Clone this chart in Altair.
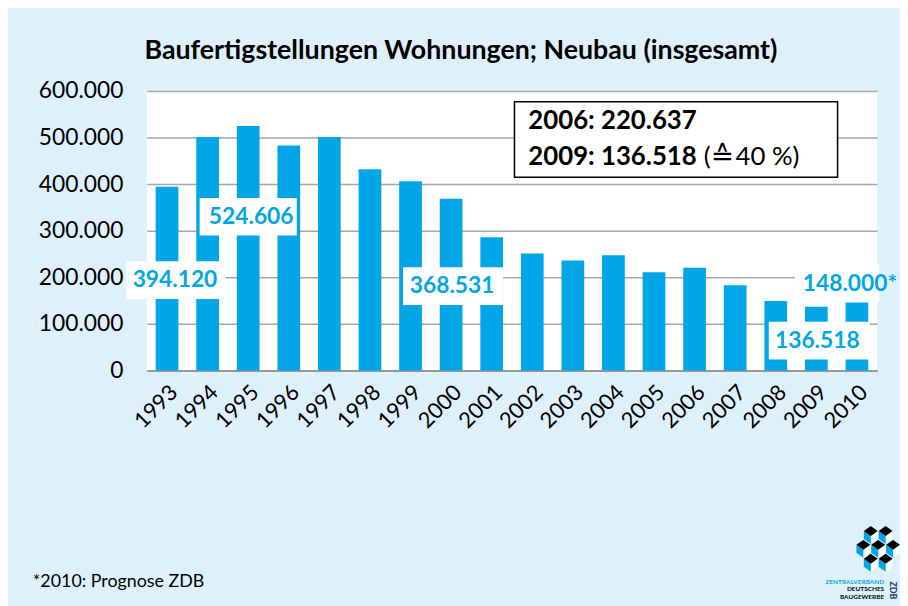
import altair as alt
import pandas as pd

# ---------------- data ----------------
years = [str(y) for y in range(1993, 2011)]
values = [394120, 501000, 524606, 483000, 501000, 432000, 406000, 368531,
          286000, 251000, 236000, 247500, 211000, 220637, 183000, 149000,
          136518, 148000]

label_years = ["1993", "1995", "2000", "2009", "2010"]
label_at = [194000, 330000, 181000, 64000, 186000]   # where the value label sits (data units)
label_suffix = ["", "", "", "", "*"]

y_ticks = [0, 100000, 200000, 300000, 400000, 500000, 600000]

title_text = "Baufertigstellungen Wohnungen; Neubau (insgesamt)"
box_line1 = "2006: 220.637"
box_line2_bold = "2009: 136.518"
box_line2_open = "("
box_line2_sign = "\u2259"
box_line2_rest = "40 %)"
footnote = "*2010: Prognose ZDB"
logo_lines = ["ZENTRALVERBAND", "DEUTSCHES", "BAUGEWERBE"]
logo_side = "ZDB"

# ---------------- style ----------------
BLUE = "#00A6E8"
BG = "#DEF0FA"
GRID = "#A6A6A6"
FONT = "Lato"
W, H = 737, 282


def de(v):
    return f"{v:,}".replace(",", ".")


df = pd.DataFrame({"year": years, "value": values})
lab = pd.DataFrame({
    "year": label_years,
    "at": label_at,
    "text": [de(values[years.index(y)]) + s for y, s in zip(label_years, label_suffix)],
})
one = pd.DataFrame({"k": [0]})

xenc = alt.X("year:O", sort=years,
             scale=alt.Scale(paddingInner=0.44, paddingOuter=0.22),
             axis=alt.Axis(title=None, labelAngle=-45, labelFontSize=22,
                           labelColor="#000000", labelFont=FONT, ticks=False,
                           domainColor="#8C8C8C", domainWidth=1.5, labelPadding=11))
yenc = alt.Y("value:Q", scale=alt.Scale(domain=[0, 600000], nice=False),
             axis=alt.Axis(title=None, values=y_ticks,
                           labelExpr="replace(format(datum.value, ','), regexp(',', 'g'), '.')",
                           labelFontSize=23, labelColor="#000000", labelFont=FONT,
                           domain=False, ticks=False, labelPadding=24,
                           gridColor=GRID, gridWidth=1.5))

bars = alt.Chart(df).mark_bar(color=BLUE).encode(x=xenc, y=yenc)


def rect_path(w, h):
    a, b = w / 100.0, h / 100.0
    return f"M{-a},{-b}H{a}V{b}H{-a}Z"


# per-label styling: (box x offset, box width, text x offset)
label_style = {
    "1993": (9, 100, 8),
    "1995": (0, 98, 3),
    "2000": (2, 101, 1),
    "2009": (3, 102, 1),
    "2010": (-20, 85, -7),
}

layers = [bars]
for y in label_years:
    bx, bw, tx = label_style[y]
    sub = lab[lab.year == y]
    layers.append(
        alt.Chart(sub).mark_point(shape=rect_path(bw, 38), size=10000, filled=True,
                                  fill="white", opacity=1, strokeWidth=0, xOffset=bx)
        .encode(x=alt.X("year:O", sort=years), y=alt.Y("at:Q"))
    )
    layers.append(
        alt.Chart(sub).mark_text(font=FONT, fontSize=23, fontWeight="bold", color=BLUE,
                                 align="center", baseline="middle", dx=tx)
        .encode(x=alt.X("year:O", sort=years), y=alt.Y("at:Q"), text="text:N")
    )

# annotation box
layers.append(
    alt.Chart(one).mark_rect(fill="white", stroke="#000000", strokeWidth=1.5)
    .encode(x=alt.value(371), x2=alt.value(697), y=alt.value(11), y2=alt.value(87))
)
for txt, xpos, ypos, weight, fnt, fs in [
    (box_line1, 385, 38, "bold", FONT, 26),
    (box_line2_bold, 385, 75, "bold", FONT, 26),
    (box_line2_open, 562, 75, "normal", FONT, 26),
    (box_line2_sign, 569, 75, "normal", "DejaVu Sans", 28),
    (box_line2_rest, 594, 75, "normal", FONT, 26),
]:
    layers.append(
        alt.Chart(one).mark_text(text=txt, font=fnt, fontSize=fs, fontWeight=weight,
                                 color="#000000", align="left", baseline="alphabetic")
        .encode(x=alt.value(xpos), y=alt.value(ypos))
    )

# title
layers.append(
    alt.Chart(one).mark_text(text=title_text, font=FONT, fontSize=27, fontWeight="bold",
                             color="#000000", align="center", baseline="alphabetic")
    .encode(x=alt.value(317), y=alt.value(-32))
)
# footnote
layers.append(
    alt.Chart(one).mark_text(text=footnote, font=FONT, fontSize=18,
                             color="#000000", align="left", baseline="alphabetic")
    .encode(x=alt.value(-115), y=alt.value(501))
)

# logo (decoration)
cubes = [(-7.5, -14), (7.5, -14), (-15, 0), (0, 0), (15, 0), (-7.5, 14), (7.5, 14)]
top_p = "".join(f"M{cx},{cy-5}L{cx+7},{cy}L{cx},{cy+5}L{cx-7},{cy}Z" for cx, cy in cubes)
left_p = "".join(f"M{cx-7},{cy}L{cx},{cy+5}L{cx},{cy+13}L{cx-7},{cy+8}Z" for cx, cy in cubes)
right_p = "".join(f"M{cx+7},{cy}L{cx},{cy+5}L{cx},{cy+13}L{cx+7},{cy+8}Z" for cx, cy in cubes)
for p, c in [(right_p, "white"), (left_p, BLUE), (top_p, "#000000")]:
    layers.append(
        alt.Chart(one).mark_point(shape=p, size=4, filled=True, fill=c, opacity=1, strokeWidth=0)
        .encode(x=alt.value(738), y=alt.value(458))
    )
for i, (t, c) in enumerate(zip(logo_lines, [BLUE, "#000000", "#000000"])):
    layers.append(
        alt.Chart(one).mark_text(text=t, font=FONT, fontSize=6.5, fontWeight="bold",
                                 color=c, align="right", baseline="alphabetic")
        .encode(x=alt.value(744), y=alt.value(497 + 8 * i))
    )
layers.append(
    alt.Chart(one).mark_text(text=logo_side, font=FONT, fontSize=9, fontWeight="bold",
                             color="#1A3A6E", align="center", baseline="middle", angle=90)
    .encode(x=alt.value(753), y=alt.value(504))
)

chart = alt.layer(*layers).properties(
    width=W, height=H,
    autosize=alt.AutoSizeParams(type="none"),
    padding={"left": 140, "top": 81, "right": 23, "bottom": 235},
).configure(background=BG).configure_view(fill="white", stroke=None)

chart.save("out.html", embed_options={"renderer": "svg", "actions": False})
